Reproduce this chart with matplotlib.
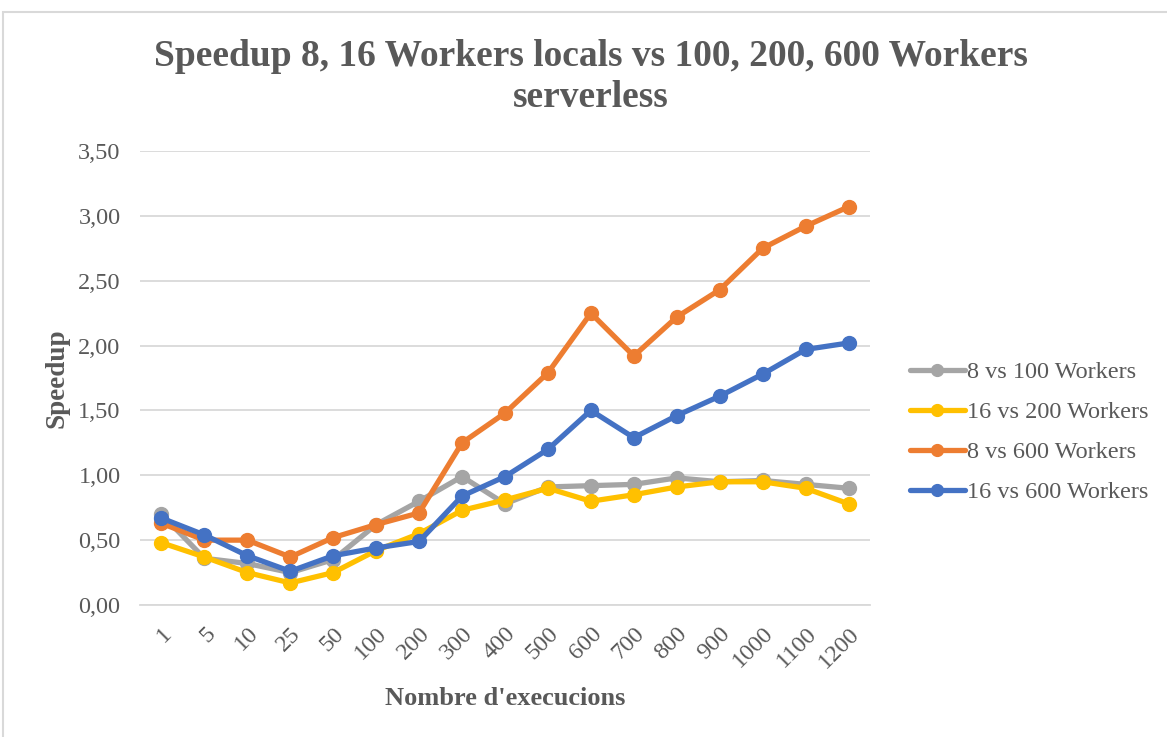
import matplotlib.pyplot as plt
from matplotlib.patches import Rectangle

execs = ['1', '5', '10', '25', '50', '100', '200', '300', '400', '500',
         '600', '700', '800', '900', '1000', '1100', '1200']

s8_100 = [0.70, 0.36, 0.32, 0.25, 0.35, 0.62, 0.80, 0.99, 0.78, 0.91,
          0.92, 0.93, 0.98, 0.95, 0.96, 0.93, 0.90]
s16_200 = [0.48, 0.37, 0.25, 0.17, 0.25, 0.42, 0.55, 0.73, 0.81, 0.90,
           0.80, 0.85, 0.91, 0.95, 0.95, 0.90, 0.78]
s8_600 = [0.63, 0.50, 0.50, 0.37, 0.52, 0.62, 0.71, 1.25, 1.48, 1.79,
          2.25, 1.92, 2.22, 2.43, 2.75, 2.92, 3.07]
s16_600 = [0.67, 0.54, 0.38, 0.26, 0.38, 0.44, 0.49, 0.84, 0.99, 1.20,
           1.50, 1.29, 1.46, 1.61, 1.78, 1.97, 2.02]

yticks = [0, 0.5, 1.0, 1.5, 2.0, 2.5, 3.0, 3.5]

series = [
    (s8_100, '8 vs 100 Workers', '#A5A5A5'),
    (s16_200, '16 vs 200 Workers', '#FFC000'),
    (s8_600, '8 vs 600 Workers', '#ED7D31'),
    (s16_600, '16 vs 600 Workers', '#4472C4'),
]

txt = '#595959'
plt.rcParams['font.family'] = ['Liberation Serif', 'DejaVu Serif']

fig = plt.figure(figsize=(11.67, 7.37), dpi=100)
ax = fig.add_axes([140 / 1167, 1 - 605 / 737, 730 / 1167, 454 / 737])

# chart border
fig.patches.append(Rectangle((3 / 1167, -0.1), 1.2, 0.1 + 1 - 12 / 737,
                             transform=fig.transFigure, fill=False,
                             edgecolor='#D9D9D9', linewidth=1.5))

x = list(range(len(execs)))
for vals, name, col in series:
    ax.plot(x, vals, '-o', color=col, lw=3.8, ms=10, label=name,
            solid_capstyle='round')

ax.set_xlim(-0.5, len(execs) - 0.5)
ax.set_ylim(0, 3.5)
ax.set_yticks(yticks)
ax.set_yticklabels([('%.2f' % v).replace('.', ',') for v in yticks])
ax.set_xticks(x)
ax.set_xticklabels(execs, rotation=45, ha='right', va='top',
                   rotation_mode='anchor')
ax.tick_params(axis='both', length=0, labelsize=17.5, colors=txt)
ax.tick_params(axis='y', pad=14)
ax.tick_params(axis='x', pad=13)
ax.grid(axis='y', color='#D9D9D9', lw=1.3)
ax.set_axisbelow(True)
for sp in ['top', 'right', 'left']:
    ax.spines[sp].set_visible(False)
ax.spines['bottom'].set_color('#D9D9D9')
ax.spines['bottom'].set_linewidth(1.3)

ax.set_ylabel('Speedup', fontsize=19.5, fontweight='bold', color=txt, labelpad=6)
ax.set_xlabel("Nombre d'execucions", fontsize=19, fontweight='bold',
              color=txt, labelpad=11)

fig.text(0.506, 1 - 77 / 737,
         'Speedup 8, 16 Workers locals vs 100, 200, 600 Workers\nserverless',
         ha='center', va='center', fontsize=27, fontweight='bold', color=txt,
         linespacing=1.22)

leg = ax.legend(loc='center left', bbox_to_anchor=(1.041, 0.38), frameon=False,
                fontsize=17.5, handlelength=2.26, handletextpad=0.12,
                labelspacing=0.74, borderaxespad=0)
for t in leg.get_texts():
    t.set_color(txt)
for h in leg.legend_handles:
    h.set_markersize(8.5)

fig.savefig('out.png', dpi=100)
